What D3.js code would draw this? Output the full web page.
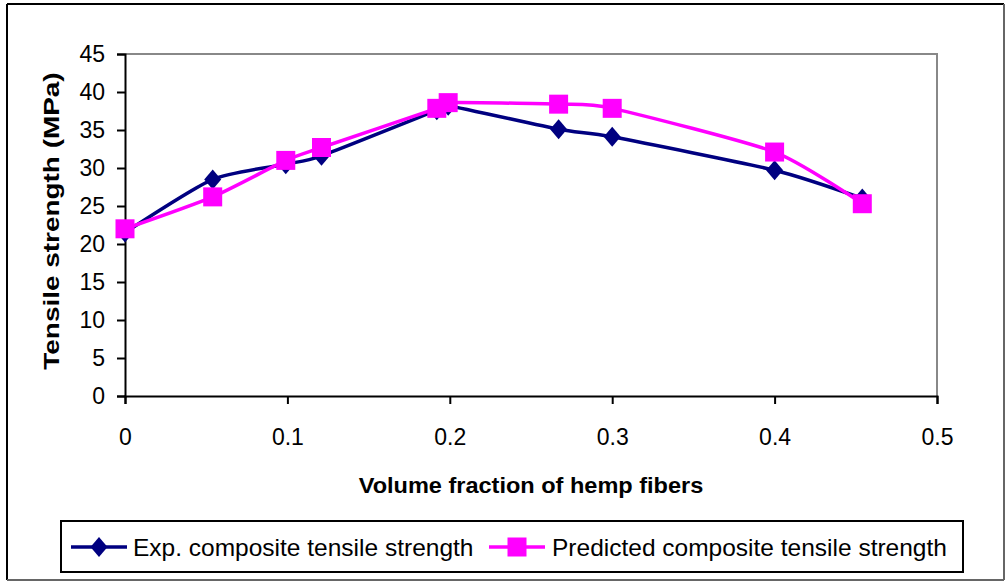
<!DOCTYPE html>
<html>
<head>
<meta charset="utf-8">
<script src="https://cdn.jsdelivr.net/npm/d3@7"></script>
<style>
  html, body { margin: 0; padding: 0; background: #fff; }
  svg { display: block; font-family: "Liberation Sans", Arial, sans-serif; }
  .tick-text { font-size: 23px; fill: #000; }
  .axis-title { font-size: 22px; font-weight: bold; fill: #000; }
  .legend-text { font-size: 24.5px; fill: #000; }
</style>
</head>
<body>
<div id="chart"></div>
<script>
const volumeFraction = [0, 0.054, 0.099, 0.121, 0.192, 0.199, 0.267, 0.3, 0.4, 0.454];
const expStrength = [21.5, 28.5, 30.5, 31.6, 37.6, 38.2, 35.1, 34.1, 29.7, 26.0];
const predStrength = [22.0, 26.2, 31.0, 32.7, 37.85, 38.6, 38.4, 37.85, 32.1, 25.3];
const xTicks = [0, 0.1, 0.2, 0.3, 0.4, 0.5];
const yTicks = [0, 5, 10, 15, 20, 25, 30, 35, 40, 45];
const seriesNames = ["Exp. composite tensile strength", "Predicted composite tensile strength"];

const width = 1008;
const height = 581;
const margin = { top: 54, right: 71, bottom: 185, left: 125 };

const svg = d3.select("#chart").append("svg").attr("width", width).attr("height", height);

const x = d3.scaleLinear().domain([0, 0.5]).range([margin.left, width - margin.right]);
const y = d3.scaleLinear().domain([0, 45]).range([height - margin.bottom, margin.top]);

// outer frame
svg.append("line").attr("x1", 7).attr("y1", 4).attr("x2", 1004).attr("y2", 4).attr("stroke", "#000").attr("stroke-width", 2);
svg.append("line").attr("x1", 7).attr("y1", 4).attr("x2", 7).attr("y2", 580).attr("stroke", "#000").attr("stroke-width", 2);
svg.append("line").attr("x1", 1004).attr("y1", 4).attr("x2", 1004).attr("y2", 580).attr("stroke", "#666").attr("stroke-width", 2);
svg.append("line").attr("x1", 7).attr("y1", 580).attr("x2", 1004).attr("y2", 580).attr("stroke", "#666").attr("stroke-width", 2);

// plot area border (top and right)
svg.append("path")
  .attr("d", `M${x(0)},${y(45)}H${x(0.5)}V${y(0)}`)
  .attr("fill", "none")
  .attr("stroke", "#888")
  .attr("stroke-width", 2);

svg.append("g")
  .attr("transform", `translate(0, ${y(0)})`)
  .call(d3.axisBottom(x).tickValues(xTicks).tickSize(8).tickPadding(25).tickFormat((d) => String(d)))
  .call((g) => g.select(".domain").attr("stroke", "#000").attr("stroke-width", 2))
  .call((g) => g.selectAll(".tick line").attr("stroke", "#000").attr("stroke-width", 2))
  .call((g) => g.selectAll("text").attr("class", "tick-text").attr("font-family", null).attr("font-size", null));

svg.append("g")
  .attr("transform", `translate(${x(0)}, 0)`)
  .call(d3.axisLeft(y).tickValues(yTicks).tickSize(8).tickPadding(12))
  .call((g) => g.select(".domain").attr("stroke", "#000").attr("stroke-width", 2))
  .call((g) => g.selectAll(".tick line").attr("stroke", "#000").attr("stroke-width", 2))
  .call((g) => g.selectAll("text").attr("class", "tick-text").attr("font-family", null).attr("font-size", null));

svg.append("text")
  .attr("class", "axis-title")
  .attr("transform", `translate(${(x(0) + x(0.5)) / 2}, 493) scale(1.07,1)`)
  .attr("text-anchor", "middle")
  .text("Volume fraction of hemp fibers");

svg.append("text")
  .attr("class", "axis-title")
  .attr("transform", `translate(59, ${(y(0) + y(45)) / 2 - 4}) rotate(-90) scale(1.27,1)`)
  .attr("text-anchor", "middle")
  .text("Tensile strength (MPa)");

const diamond = "M0,-10L8.5,0L0,10L-8.5,0Z";
const square = "M-9.5,-9.5H9.5V9.5H-9.5Z";

const series = [
  { name: seriesNames[0], values: expStrength, color: "#000080", marker: diamond },
  { name: seriesNames[1], values: predStrength, color: "#ff00ff", marker: square },
];

const line = d3.line()
  .x((d) => x(d[0]))
  .y((d) => y(d[1]))
  .curve(d3.curveCardinal.tension(0.35));

series.forEach((s) => {
  const pts = volumeFraction.map((v, i) => [v, s.values[i]]);
  svg.append("path")
    .datum(pts)
    .attr("d", line)
    .attr("fill", "none")
    .attr("stroke", s.color)
    .attr("stroke-width", 3.5);
  svg.append("g")
    .selectAll("path")
    .data(pts)
    .join("path")
    .attr("transform", (d) => `translate(${x(d[0])}, ${y(d[1])})`)
    .attr("d", s.marker)
    .attr("fill", s.color);
});

// legend
const legend = svg.append("g");
legend.append("rect")
  .attr("x", 61).attr("y", 521).attr("width", 902).attr("height", 51)
  .attr("fill", "#fff").attr("stroke", "#000").attr("stroke-width", 2);

const legendItems = [
  { s: series[0], x0: 71, tx: 133 },
  { s: series[1], x0: 489, tx: 552 },
];
legendItems.forEach(({ s, x0, tx }) => {
  legend.append("line")
    .attr("x1", x0).attr("x2", x0 + 56).attr("y1", 547).attr("y2", 547)
    .attr("stroke", s.color).attr("stroke-width", 3.5);
  legend.append("path")
    .attr("transform", `translate(${x0 + 28}, 547)`)
    .attr("d", s.marker)
    .attr("fill", s.color);
  legend.append("text")
    .attr("class", "legend-text")
    .attr("x", tx).attr("y", 556)
    .text(s.name);
});
</script>
</body>
</html>
